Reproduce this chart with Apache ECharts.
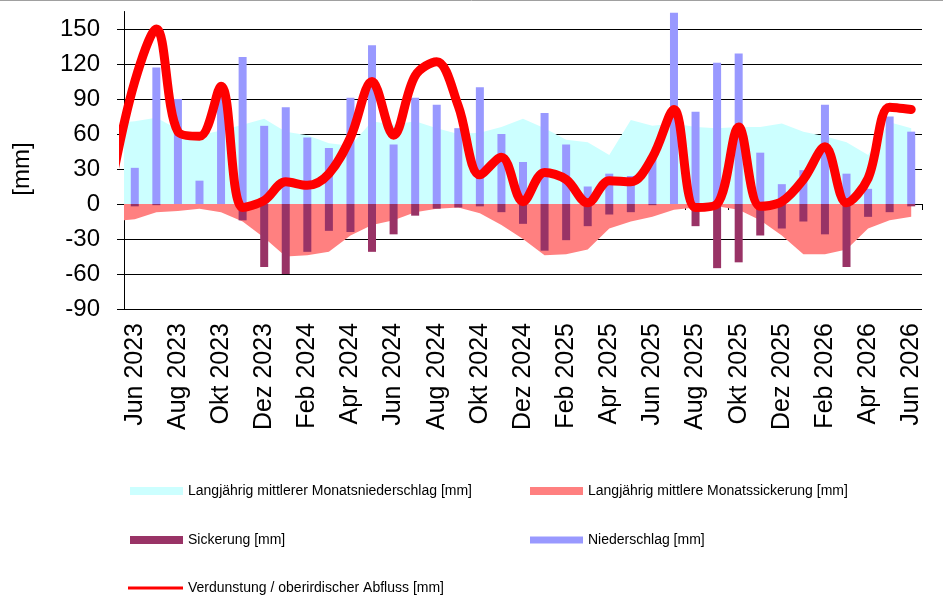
<!DOCTYPE html>
<html>
<head>
<meta charset="utf-8">
<title>Wasserbilanz</title>
<script src="https://cdn.jsdelivr.net/npm/echarts@6/dist/echarts.min.js"></script>
<style>
  html, body { margin: 0; padding: 0; background: #fff; }
  #main { width: 943px; height: 607px; }
</style>
</head>
<body>
<div id="main"></div>
<script>
// Monate (Kategorien)
const months = ['Jun 2023', 'Jul 2023', 'Aug 2023', 'Sep 2023', 'Okt 2023', 'Nov 2023', 'Dez 2023',
  'Jan 2024', 'Feb 2024', 'Mrz 2024', 'Apr 2024', 'Mai 2024', 'Jun 2024', 'Jul 2024', 'Aug 2024',
  'Sep 2024', 'Okt 2024', 'Nov 2024', 'Dez 2024', 'Jan 2025', 'Feb 2025', 'Mrz 2025', 'Apr 2025',
  'Mai 2025', 'Jun 2025', 'Jul 2025', 'Aug 2025', 'Sep 2025', 'Okt 2025', 'Nov 2025', 'Dez 2025',
  'Jan 2026', 'Feb 2026', 'Mrz 2026', 'Apr 2026', 'Mai 2026', 'Jun 2026'];

// Monatswerte [mm]
const niederschlag = [31, 117, 90, 20, 96, 126, 67, 83, 57, 48, 91, 136, 51, 91, 85, 65, 100, 60, 36,
  78, 51, 15, 26, 24, 40, 164, 79, 121, 129, 44, 17, 29, 85, 26, 13, 75, 62];
const sickerung = [-2, -1, 0, 0, 0, -14, -54, -60, -41, -23, -24, -41, -26, -10, -4, -3, -2, -7, -17,
  -40, -31, -19, -9, -7, -1, 0, -19, -55, -50, -27, -21, -15, -26, -54, -11, -7, -2];

// first value of the next three = Mai 2023 (left of the axis, gets clipped)
const verdunstung = [25, 105, 150, 62, 58, 101, -3, 3, 19, 16, 26, 57, 105, 59, 110, 122, 84, 25, 40, 2,
  27, 21, 1, 20, 19, 40, 81, -3, 0, 66, -2, 2, 21, 49, 1, 22, 83, 81];
const langNiederschlag = [69, 71, 74, 64, 59, 63, 68, 73, 62, 59, 52, 50, 71, 68, 71, 65, 60, 61, 66, 73,
  65, 55, 53, 42, 72, 67, 69, 66, 65, 66, 66, 69, 62, 58, 53, 42, 70, 65];
const langSickerung = [-15, -13, -7, -6, -4, -7, -15, -29, -45, -44, -41, -27, -18, -14, -7, -4, -3, -8,
  -18, -30, -44, -43, -39, -21, -15, -11, -5, -3, -2, -5, -14, -27, -43, -43, -39, -21, -14, -11];

const yTicks = { min: -90, max: 150, step: 30 };

const FONT = '"Liberation Sans", Arial, sans-serif';
const names = {
  langN: 'Langjährig mittlerer Monatsniederschlag [mm]',
  langS: 'Langjährig mittlere Monatssickerung [mm]',
  sick: 'Sickerung [mm]',
  nied: 'Niederschlag [mm]',
  verd: 'Verdunstung / oberirdischer Abfluss [mm]'
};

// index -1 = Mai 2023
function asPoints (arr) {
  return arr.map((v, i) => [i - 1, v]);
}

function legend (name, left, top, w, h, color) {
  return {
    data: [{ name: name, icon: 'rect', itemStyle: { color: color } }],
    left: left,
    top: top,
    padding: 0,
    itemWidth: w,
    itemHeight: h,
    selectedMode: false,
    textStyle: { fontSize: 14, color: '#000', fontFamily: FONT }
  };
}

const myChart = echarts.init(document.getElementById('main'));
myChart.setOption({
  animation: false,
  backgroundColor: '#fff',
  textStyle: { fontFamily: FONT },
  graphic: [{
    type: 'line',
    shape: { x1: 0, y1: 0.5, x2: 943, y2: 0.5 },
    style: { stroke: '#a0a0a0', lineWidth: 1 }
  }],
  grid: [
    { left: 124, right: 21, top: 29, bottom: 298 },
    { left: 124, right: 21, top: 11.5, bottom: 298 }
  ],
  legend: [
    legend(names.langN, 130, 484, 53, 8, '#ccffff'),
    legend(names.langS, 530, 484, 53, 8, '#ff8080'),
    legend(names.sick, 130, 533, 53, 8, '#993366'),
    legend(names.nied, 530, 533, 53, 7, '#9999ff'),
    legend(names.verd, 128, 581, 55, 3, '#ff0000')
  ],
  xAxis: [
    {
      gridIndex: 0,
      type: 'category',
      data: months,
      axisLine: { show: false, onZero: false },
      axisTick: { show: false },
      splitLine: { show: false },
      axisLabel: { interval: 1, rotate: 90, margin: 14, fontSize: 25, color: '#000', fontFamily: FONT }
    },
    {
      gridIndex: 1,
      type: 'category',
      data: months,
      axisLine: { show: true, onZero: true, lineStyle: { color: '#000', width: 1 } },
      axisTick: { show: true, interval: 1, length: 6, lineStyle: { color: '#000' } },
      axisLabel: { show: false, interval: 1 },
      splitLine: { show: false }
    },
    {
      gridIndex: 1,
      type: 'value',
      min: -0.5,
      max: months.length - 0.5,
      show: false
    }
  ],
  yAxis: [
    {
      gridIndex: 0,
      type: 'value',
      min: yTicks.min,
      max: yTicks.max,
      interval: yTicks.step,
      axisLine: { show: false },
      axisTick: { show: true, length: 7, lineStyle: { color: '#000' } },
      splitLine: { show: true, lineStyle: { color: '#000', width: 1 } },
      axisLabel: { margin: 24, fontSize: 24, color: '#000', fontFamily: FONT },
      name: '[mm]',
      nameLocation: 'middle',
      nameRotate: 90,
      nameGap: 90,
      nameTextStyle: { fontSize: 24, color: '#000', fontFamily: FONT }
    },
    {
      gridIndex: 1,
      type: 'value',
      min: -90,
      max: 165,
      axisLine: { show: true, onZero: false, lineStyle: { color: '#000', width: 1 } },
      axisTick: { show: false },
      axisLabel: { show: false },
      splitLine: { show: false }
    }
  ],
  series: [
    {
      name: names.langN,
      type: 'line',
      xAxisIndex: 2,
      yAxisIndex: 1,
      data: asPoints(langNiederschlag),
      symbol: 'none',
      lineStyle: { width: 0 },
      itemStyle: { color: '#ccffff' },
      areaStyle: { color: '#ccffff', opacity: 1 },
      z: 1
    },
    {
      name: names.langS,
      type: 'line',
      xAxisIndex: 2,
      yAxisIndex: 1,
      data: asPoints(langSickerung),
      symbol: 'none',
      lineStyle: { width: 0 },
      itemStyle: { color: '#ff8080' },
      areaStyle: { color: '#ff8080', opacity: 1 },
      z: 1
    },
    {
      name: names.sick,
      type: 'bar',
      xAxisIndex: 1,
      yAxisIndex: 1,
      data: sickerung,
      barWidth: 8,
      barGap: '-100%',
      itemStyle: { color: '#993366' },
      z: 3
    },
    {
      name: names.nied,
      type: 'bar',
      xAxisIndex: 1,
      yAxisIndex: 1,
      data: niederschlag,
      barWidth: 8,
      barGap: '-100%',
      itemStyle: { color: '#9999ff' },
      z: 3
    },
    {
      name: names.verd,
      type: 'line',
      xAxisIndex: 2,
      yAxisIndex: 1,
      data: asPoints(verdunstung),
      smooth: 0.35,
      symbol: 'none',
      lineStyle: { width: 9, color: '#ff0000', cap: 'round', join: 'round' },
      itemStyle: { color: '#ff0000' },
      z: 4
    }
  ]
});
</script>
</body>
</html>
